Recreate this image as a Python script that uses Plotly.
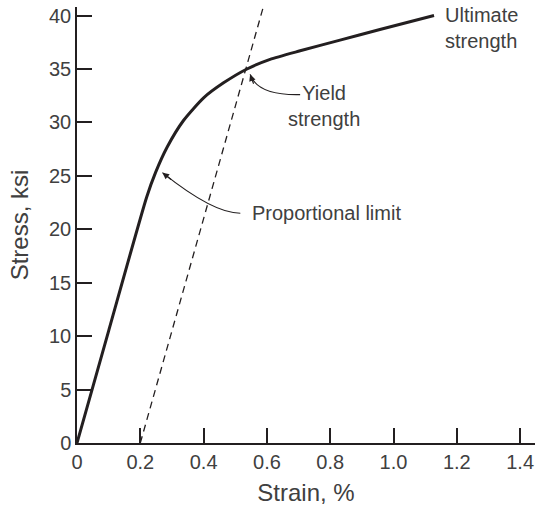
import plotly.graph_objects as go

# Stress-strain curve
strain = [0, 0.10, 0.22, 0.248, 0.285, 0.337, 0.40, 0.463, 0.537, 0.61, 0.705, 0.831, 0.957, 1.128]
stress = [0, 10.5, 23.0, 25.3, 27.7, 30.2, 32.3, 33.7, 35.0, 35.9, 36.7, 37.7, 38.7, 40.0]

# 0.2 % offset line
offset_strain = [0.2, 0.6]
offset_stress = [0, 42]

x_ticks = [0, 0.2, 0.4, 0.6, 0.8, 1.0, 1.2, 1.4]
x_labels = ['0', '0.2', '0.4', '0.6', '0.8', '1.0', '1.2', '1.4']
y_ticks = [0, 5, 10, 15, 20, 25, 30, 35, 40]

ink = '#231f20'
txt = '#404040'
font = 'Liberation Sans, Arial, sans-serif'

fig = go.Figure()

fig.add_trace(go.Scatter(
    x=offset_strain, y=offset_stress, mode='lines',
    line=dict(color=ink, width=1.3, dash='7px,5px'),
    showlegend=False, hoverinfo='skip'
))

fig.add_trace(go.Scatter(
    x=strain, y=stress, mode='lines',
    line=dict(color=ink, width=3, shape='spline', smoothing=0.6),
    showlegend=False
))

# curved leaders
fig.add_shape(type='path', xref='x', yref='y',
              path='M 0.516,21.5 Q 0.43,21.5 0.27,25.3',
              line=dict(color=ink, width=1.2))
fig.add_shape(type='path', xref='x', yref='y',
              path='M 0.705,32.6 Q 0.57,32.5 0.547,34.5',
              line=dict(color=ink, width=1.2))

# arrowheads
fig.add_annotation(x=0.27, y=25.3, ax=10, ay=8, text='', showarrow=True,
                   arrowhead=2, arrowsize=1.1, arrowwidth=1.2, arrowcolor=ink)
fig.add_annotation(x=0.547, y=34.5, ax=4, ay=11, text='', showarrow=True,
                   arrowhead=2, arrowsize=1.1, arrowwidth=1.2, arrowcolor=ink)

# labels
fig.add_annotation(x=0.545, y=21.5, text='Proportional limit', showarrow=False,
                   xanchor='left', yanchor='middle', font=dict(size=20, color=txt))
fig.add_annotation(x=0.78, y=31.5, text='Yield<br>strength', showarrow=False,
                   xanchor='center', yanchor='middle', align='center',
                   font=dict(size=20, color=txt))
fig.add_annotation(x=1.155, y=38.8, text='Ultimate<br>strength', showarrow=False,
                   xanchor='left', yanchor='middle', align='left',
                   font=dict(size=20, color=txt))

fig.update_layout(
    width=540,
    height=506,
    margin=dict(l=77, r=5, t=7, b=63),
    plot_bgcolor='white',
    paper_bgcolor='white',
    font=dict(family=font, size=20, color=txt),
    xaxis=dict(
        range=[0, 1.447], tickvals=x_ticks, ticktext=x_labels,
        showline=True, linecolor=ink, linewidth=1.5,
        ticks='inside', ticklen=15, tickwidth=1.5, tickcolor=ink,
        showgrid=False, zeroline=False, automargin=False,
        title=dict(text='Strain, %', standoff=13)
    ),
    yaxis=dict(
        range=[0, 40.8], tickvals=y_ticks,
        showline=True, linecolor=ink, linewidth=1.5,
        ticks='inside', ticklen=15, tickwidth=1.5, tickcolor=ink,
        showgrid=False, zeroline=False, automargin=False,
        title=dict(text='Stress, ksi', standoff=14)
    )
)

# page has a default 8px body margin; drop it so the figure sits at the corner
fig.write_html('out.html', config={'displayModeBar': False},
               post_script="document.body.style.margin='0';")
